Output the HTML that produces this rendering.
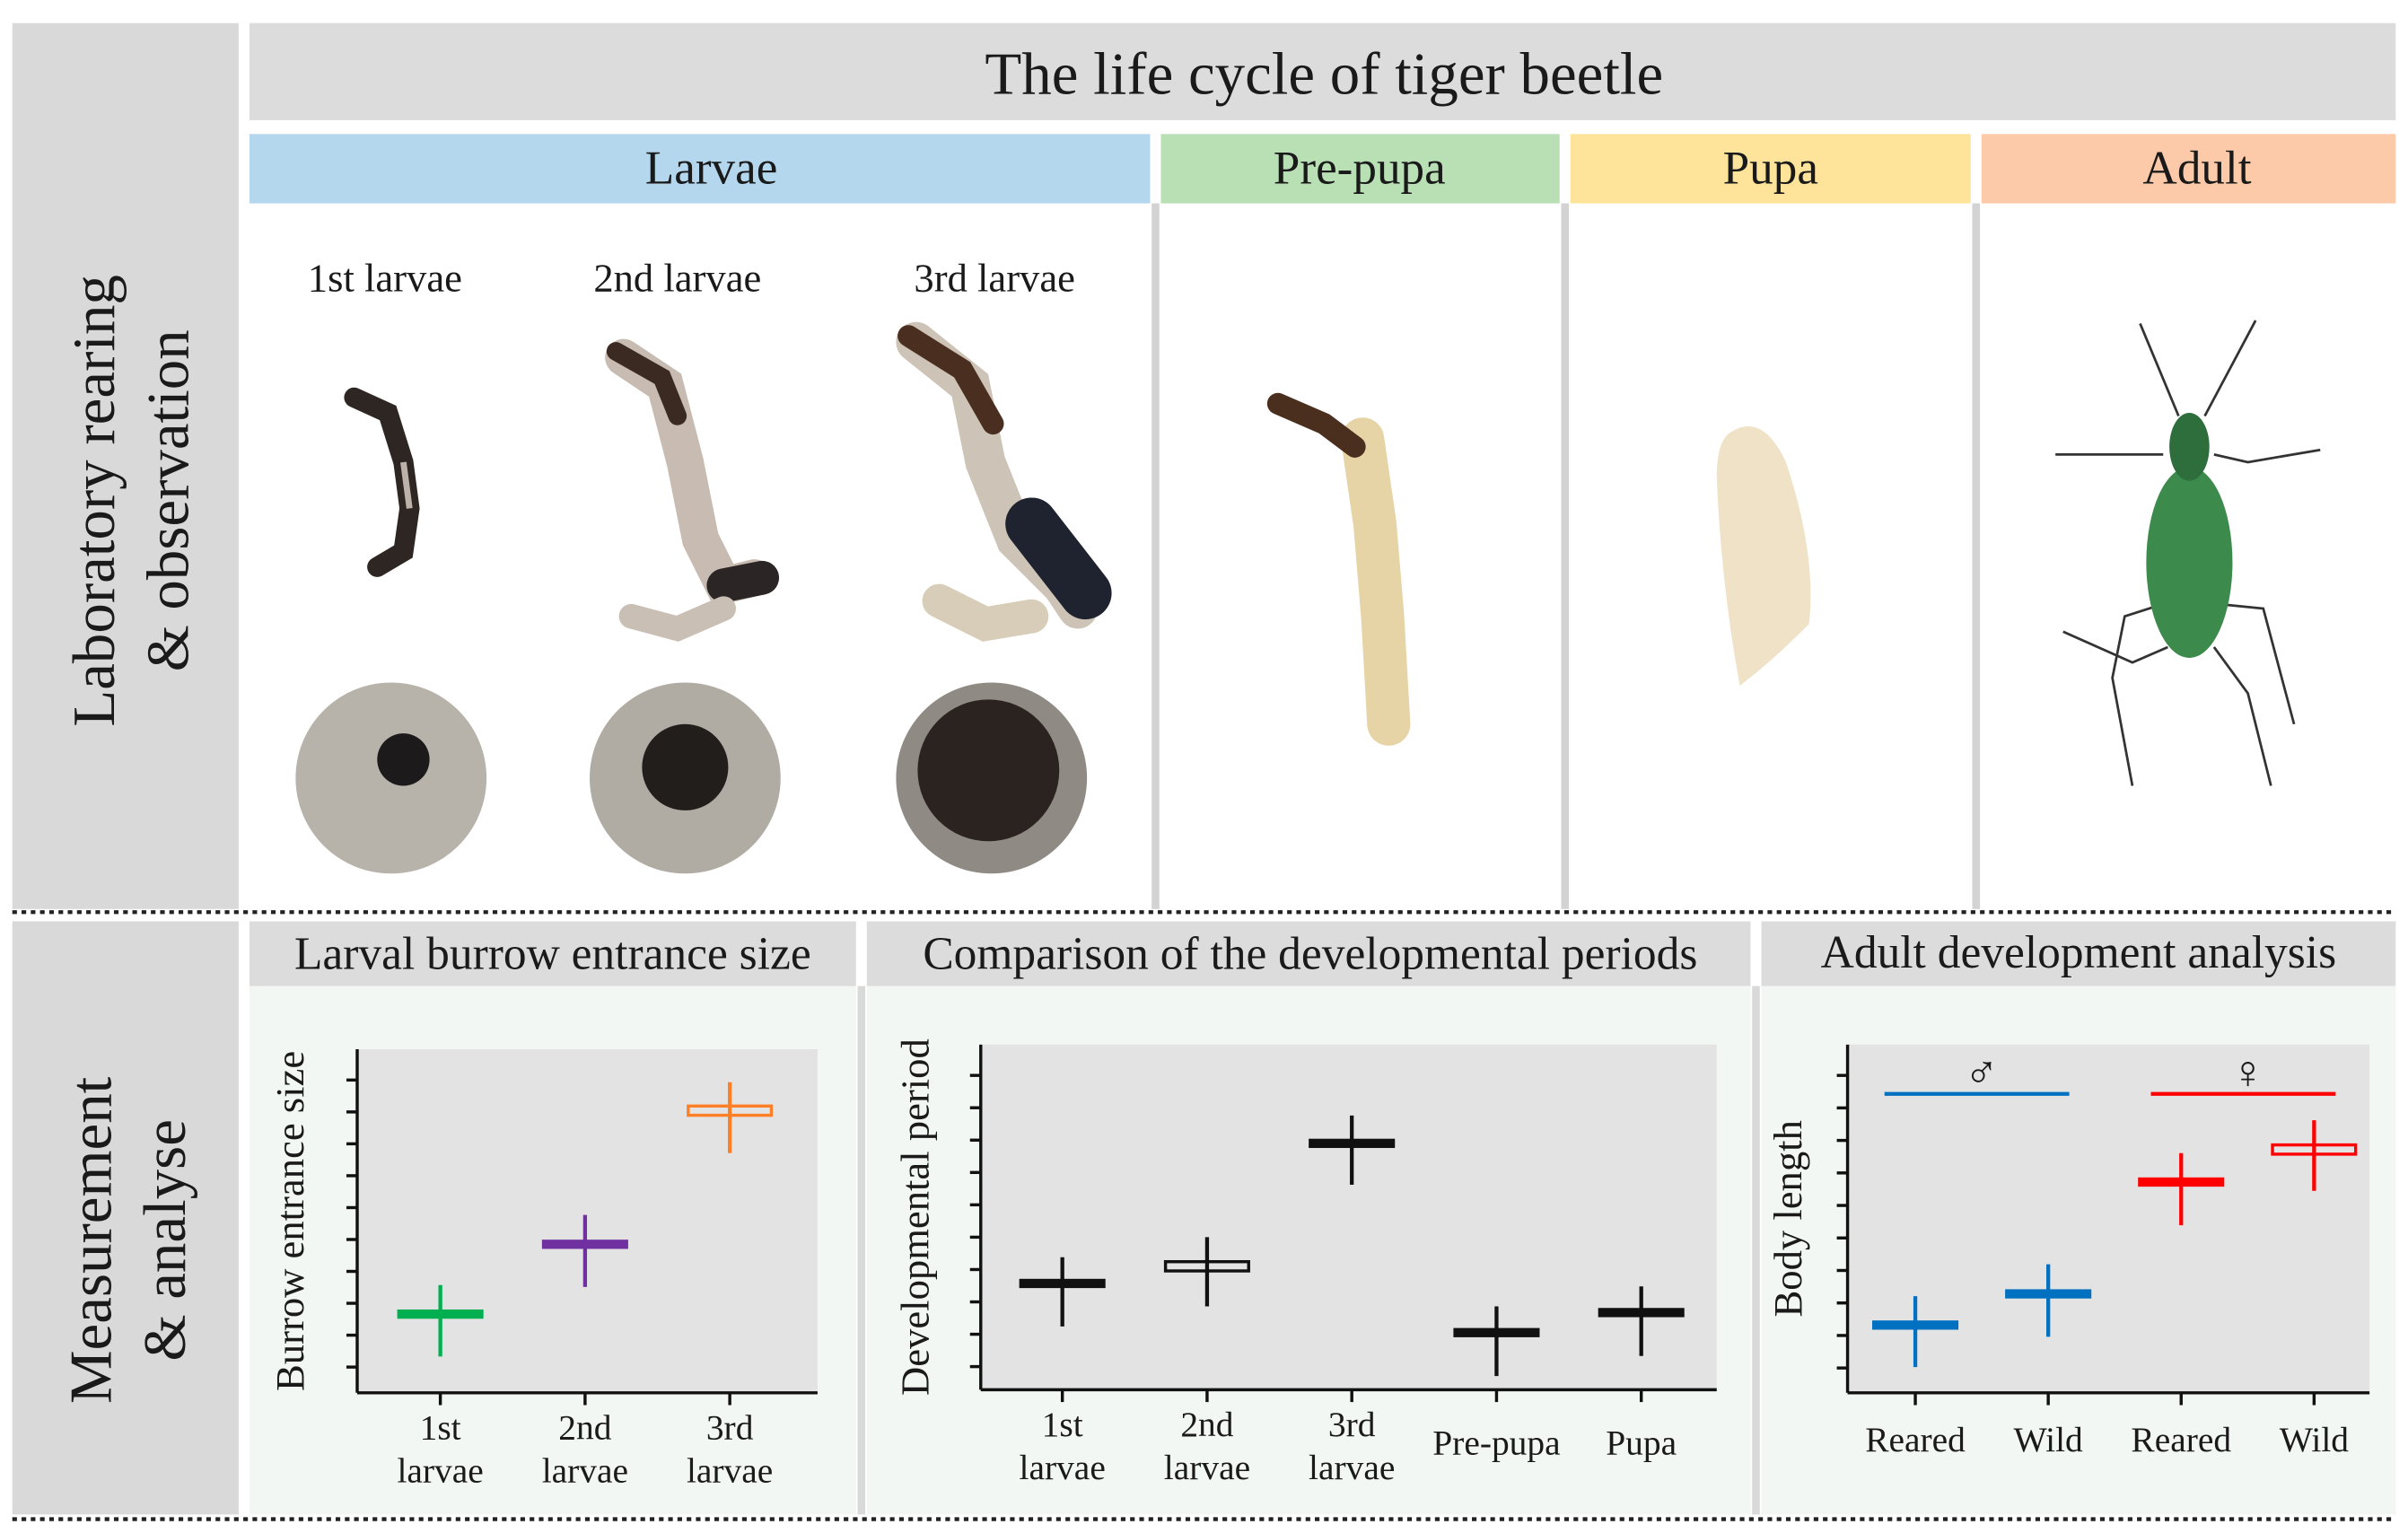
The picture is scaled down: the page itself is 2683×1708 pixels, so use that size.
<!DOCTYPE html>
<html><head><meta charset="utf-8">
<style>
html,body{margin:0;padding:0;background:#fff;}
svg{display:block;}
text{font-family:"Liberation Serif",serif;fill:#1a1a1a;}
</style></head>
<body>
<svg id="root" width="2683" height="1708" viewBox="0 0 1564 995" preserveAspectRatio="none" xmlns="http://www.w3.org/2000/svg">
<rect width="1564" height="995" fill="#fff"/>
<rect x="8" y="15" width="147" height="575" fill="#d9d9d9"/>
<rect x="8" y="598" width="147" height="385" fill="#d9d9d9"/>
<text transform="translate(74,325) rotate(-90)" text-anchor="middle" font-size="39">Laboratory rearing</text>
<text transform="translate(122,325) rotate(-90)" text-anchor="middle" font-size="39">&amp; observation</text>
<text transform="translate(72,805) rotate(-90)" text-anchor="middle" font-size="39">Measurement</text>
<text transform="translate(120,805) rotate(-90)" text-anchor="middle" font-size="39">&amp; analyse</text>

<rect x="162" y="15" width="1394" height="63" fill="#dcdcdc"/>
<text x="860" y="61" text-anchor="middle" font-size="39">The life cycle of tiger beetle</text>

<rect x="162" y="87" width="585" height="45" fill="#b4d7ee"/>
<rect x="754" y="87" width="259" height="45" fill="#b8e0b4"/>
<rect x="1020" y="87" width="260" height="45" fill="#fde49a"/>
<rect x="1287" y="87" width="269" height="45" fill="#fccaa8"/>
<text x="462" y="119" text-anchor="middle" font-size="31">Larvae</text>
<text x="883" y="119" text-anchor="middle" font-size="31">Pre-pupa</text>
<text x="1150" y="119" text-anchor="middle" font-size="31">Pupa</text>
<text x="1427" y="119" text-anchor="middle" font-size="31">Adult</text>
<rect x="748" y="132" width="5" height="458" fill="#d3d3d3"/>
<rect x="1014" y="132" width="5" height="458" fill="#d3d3d3"/>
<rect x="1281" y="132" width="5" height="458" fill="#d3d3d3"/>

<text x="250" y="189" text-anchor="middle" font-size="26">1st larvae</text>
<text x="440" y="189" text-anchor="middle" font-size="26">2nd larvae</text>
<text x="646" y="189" text-anchor="middle" font-size="26">3rd larvae</text>

<g>
<path d="M230,258 L252,268 L262,300 L266,330 L262,358 L245,368" stroke="#2e2622" stroke-width="13" fill="none" stroke-linecap="round"/>
<path d="M262,300 L266,330" stroke="#bcb2aa" stroke-width="4" fill="none"/>
</g>
<g>
<path d="M405,232 L432,250 L445,300 L455,350 L470,380 L490,375" stroke="#c8bcb2" stroke-width="24" fill="none" stroke-linecap="round"/>
<path d="M400,228 L430,245 L440,270" stroke="#3a2a22" stroke-width="12" fill="none" stroke-linecap="round"/>
<path d="M470,380 L495,375" stroke="#2b2525" stroke-width="22" fill="none" stroke-linecap="round"/>
<path d="M410,400 L440,408 L470,395" stroke="#c9bfb5" stroke-width="16" fill="none" stroke-linecap="round"/>
</g>
<g>
<path d="M595,222 L630,250 L640,300 L660,350 L690,380 L700,395" stroke="#cdc3b6" stroke-width="26" fill="none" stroke-linecap="round"/>
<path d="M590,218 L625,240 L645,275" stroke="#4a2e20" stroke-width="14" fill="none" stroke-linecap="round"/>
<path d="M670,340 L705,385" stroke="#1f2330" stroke-width="34" fill="none" stroke-linecap="round"/>
<path d="M610,390 L640,405 L670,400" stroke="#d8cdb8" stroke-width="22" fill="none" stroke-linecap="round"/>
</g>
<g><circle cx="254" cy="505" r="62" fill="#b7b3ab"/><circle cx="262" cy="493" r="17" fill="#1c1a1a"/></g>
<g><circle cx="445" cy="505" r="62" fill="#b0aca4"/><circle cx="445" cy="498" r="28" fill="#221e1c"/></g>
<g><circle cx="644" cy="505" r="62" fill="#8f8a84"/><circle cx="642" cy="500" r="46" fill="#2a231f"/></g>

<g>
<path d="M885,285 L893,340 L898,400 L902,470" stroke="#e6d3a6" stroke-width="28" fill="none" stroke-linecap="round"/>
<path d="M830,262 L860,275 L880,290" stroke="#4a2e1e" stroke-width="14" fill="none" stroke-linecap="round"/>
</g>
<g>
<path d="M1125,280 Q1145,268 1160,300 Q1180,360 1175,405 Q1150,430 1130,445 Q1118,380 1115,310 Q1115,285 1125,280 Z" fill="#efe2c6"/>
</g>
<g stroke="#333" stroke-width="1.6" fill="none">
<path d="M1415,270 L1390,210 M1432,270 L1465,208"/>
<path d="M1405,295 L1380,295 L1335,295 M1438,295 L1460,300 L1507,292"/>
<path d="M1405,392 L1380,400 L1372,440 L1385,510 M1440,392 L1470,395 L1490,470 M1408,420 L1385,430 L1340,410 M1438,420 L1460,450 L1475,510"/>
<ellipse cx="1422" cy="365" rx="28" ry="62" fill="#3c8a4c" stroke="none"/>
<ellipse cx="1422" cy="290" rx="13" ry="22" fill="#2e6e3c" stroke="none"/>
</g>

<line x1="8" y1="592" x2="1556" y2="592" stroke="#222" stroke-width="2.5" stroke-dasharray="3,3"/>
<line x1="8" y1="986" x2="1556" y2="986" stroke="#222" stroke-width="2.5" stroke-dasharray="3,3"/>

<rect x="162" y="640" width="394" height="343" fill="#f3f7f3"/>
<rect x="563" y="640" width="574" height="343" fill="#f3f7f3"/>
<rect x="1144" y="640" width="412" height="343" fill="#f3f7f3"/>
<rect x="557" y="640" width="5" height="343" fill="#d9d9d9"/>
<rect x="1138" y="640" width="5" height="343" fill="#d9d9d9"/>
<rect x="162" y="598" width="394" height="42" fill="#dcdcdc"/>
<rect x="563" y="598" width="574" height="42" fill="#dcdcdc"/>
<rect x="1144" y="598" width="412" height="42" fill="#dcdcdc"/>
<text x="359" y="629" text-anchor="middle" font-size="30">Larval burrow entrance size</text>
<text x="851" y="629" text-anchor="middle" font-size="30">Comparison of the developmental periods</text>
<text x="1350" y="628" text-anchor="middle" font-size="30">Adult development analysis</text>

<g id="charts"></g>
</svg>
<script>
// ----- Chart 1: burrow entrance size -----
const c1Categories = [["1st","larvae"],["2nd","larvae"],["3rd","larvae"]];
const c1Mean = [2.66, 4.85, 9.04];
const c1Low = [1.33, 3.51, 7.71];
const c1High = [3.57, 5.77, 9.93];
const c1Colors = ["#00b050","#7030a0","#ff7f27"];
const c1Hollow = [false,false,true];
// ----- Chart 2: developmental periods -----
const c2Categories = [["1st","larvae"],["2nd","larvae"],["3rd","larvae"],["Pre-pupa"],["Pupa"]];
const c2Mean = [3.57, 4.10, 7.90, 2.05, 2.67];
const c2Low = [2.24, 2.86, 6.62, 0.71, 1.33];
const c2High = [4.38, 5.00, 8.76, 2.86, 3.48];
const c2Hollow = [false,true,false,false,false];
// ----- Chart 3: body length -----
const c3Categories = [["Reared"],["Wild"],["Reared"],["Wild"]];
const c3Mean = [2.32, 3.28, 6.72, 7.72];
const c3Low = [1.03, 1.96, 5.39, 6.45];
const c3High = [3.21, 4.19, 7.61, 8.62];
const c3Colors = ["#0070c0","#0070c0","#ff0000","#ff0000"];
const c3Hollow = [false,false,false,true];
const yTicks = [1,2,3,4,5,6,7,8,9,10];

const NS = "http://www.w3.org/2000/svg";
const host = document.getElementById("charts");
function mk(tag, attrs, parent){
  const e = document.createElementNS(NS, tag);
  for (const k in attrs) e.setAttribute(k, attrs[k]);
  (parent||host).appendChild(e);
  return e;
}
function drawChart(cfg){
  const g = mk("g", {});
  
  
  const yScale = v => cfg.y0 - cfg.ky * v;
  const xScale = i => cfg.xFirst + i * (cfg.xLast - cfg.xFirst) / (cfg.cats.length - 1);
  const plot = mk("rect", {x:cfg.left, y:cfg.top, width:cfg.right-cfg.left, height:cfg.bottom-cfg.top, fill:"#e3e3e3"}, g);
  
  
  mk("line", {x1:cfg.left, y1:cfg.top, x2:cfg.left, y2:cfg.bottom, stroke:"#111", "stroke-width":2}, g);
  mk("line", {x1:cfg.left, y1:cfg.bottom, x2:cfg.right, y2:cfg.bottom, stroke:"#111", "stroke-width":2}, g);
  yTicks.forEach(t => {
    const tk = mk("line", {x1:cfg.left-7, x2:cfg.left, y1:yScale(t), y2:yScale(t), stroke:"#111", "stroke-width":2}, g);
    
    
  });
  const yl = mk("text", {transform:`translate(${cfg.ylx},${(cfg.top+cfg.bottom)/2}) rotate(-90)`, "text-anchor":"middle", "font-size":26}, g);
  yl.textContent = cfg.ylabel;
  
  
  cfg.cats.forEach((c, i) => {
    const x = xScale(i);
    mk("line", {x1:x, x2:x, y1:cfg.bottom, y2:cfg.bottom+8, stroke:"#111", "stroke-width":2}, g);
    const lbl = mk("text", {x:x, y: c.length>1 ? cfg.bottom+30 : cfg.bottom+cfg.singleOff, "text-anchor":"middle", "font-size":23, fill:"#333"}, g);
    
    
    c.forEach((line, j) => {
      const ts = mk("tspan", {x:x, dy: j===0 ? 0 : 28}, lbl);
      ts.textContent = line;
    });
    const col = cfg.colors[i];
    const mark = mk("g", {}, g);
    
    
    mk("line", {x1:x, x2:x, y1:yScale(cfg.high[i]), y2:yScale(cfg.low[i]), stroke:col, "stroke-width":2.5}, mark);
    const ym = yScale(cfg.mean[i]);
    if (cfg.hollow[i]) {
      mk("rect", {x:x-27, y:ym-3, width:54, height:6, fill:"none", stroke:col, "stroke-width":2}, mark);
    } else {
      mk("rect", {x:x-28, y:ym-3, width:56, height:6, fill:col}, mark);
    }
  });
  return g;
}
drawChart({name:"burrow-size-chart", cats:c1Categories, mean:c1Mean, low:c1Low, high:c1High, colors:c1Colors, hollow:c1Hollow,
  left:232, right:531, top:681, bottom:904, y0:908, ky:20.7, xFirst:286, xLast:474, ylabel:"Burrow entrance size", ylx:197, singleOff:40});
drawChart({name:"developmental-period-chart", cats:c2Categories, mean:c2Mean, low:c2Low, high:c2High, colors:c2Categories.map(()=>"#111"), hollow:c2Hollow,
  left:637, right:1115, top:678, bottom:902, y0:908, ky:21, xFirst:690, xLast:1066, ylabel:"Developmental period", ylx:603, singleOff:42});
const g3 = drawChart({name:"body-length-chart", cats:c3Categories, mean:c3Mean, low:c3Low, high:c3High, colors:c3Colors, hollow:c3Hollow,
  left:1200, right:1539, top:678, bottom:904, y0:909, ky:21.1, xFirst:1244, xLast:1503, ylabel:"Body length", ylx:1170, singleOff:38});
const m = mk("line", {x1:1224, x2:1344, y1:710, y2:710, stroke:"#0070c0", "stroke-width":2.5}, g3);


const f = mk("line", {x1:1397, x2:1517, y1:710, y2:710, stroke:"#ff0000", "stroke-width":2.5}, g3);


const ms = mk("text", {x:1287, y:706, "text-anchor":"middle", "font-size":30, fill:"#0070c0"}, g3);
ms.textContent = "♂";


const fs = mk("text", {x:1460, y:706, "text-anchor":"middle", "font-size":30, fill:"#ff0000"}, g3);
fs.textContent = "♀";


</script>
</body></html>
